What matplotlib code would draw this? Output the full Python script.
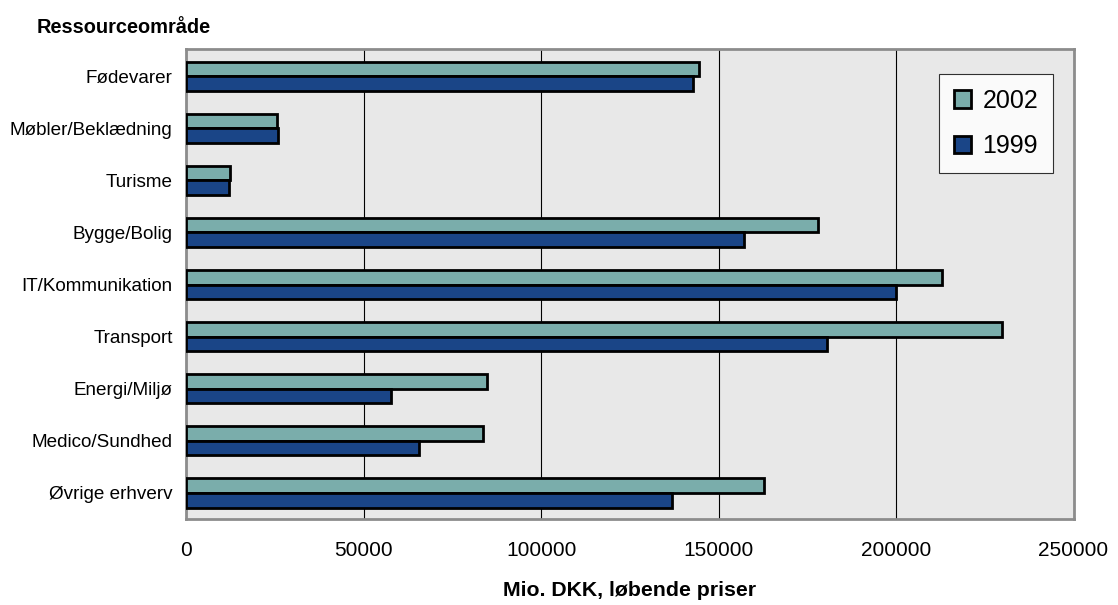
import matplotlib
matplotlib.use("Agg")
import matplotlib.pyplot as plt
import numpy as np

plt.rcParams['font.family'] = ['Liberation Sans', 'DejaVu Sans']

categories = ['Fødevarer', 'Møbler/Beklædning', 'Turisme', 'Bygge/Bolig',
              'IT/Kommunikation', 'Transport', 'Energi/Miljø',
              'Medico/Sundhed', 'Øvrige erhverv']
values_2002 = [144500, 25500, 12200, 178000, 212800, 229900, 84700, 83700, 162700]
values_1999 = [142800, 25700, 11900, 157100, 199900, 180500, 57600, 65600, 136900]
xticks = [0, 50000, 100000, 150000, 200000, 250000]

fig = plt.figure(figsize=(11.18, 6.05), dpi=100)
ax = fig.add_axes([0.1668, 0.1421, 0.7934, 0.7769])
ax.set_facecolor('#E8E8E8')

y = np.arange(len(categories))
h = 0.28
ax.barh(y - h / 2, values_2002, height=h, color='#7AADAB', edgecolor='black',
        linewidth=2, label='2002', zorder=3)
ax.barh(y + h / 2, values_1999, height=h, color='#1A4587', edgecolor='black',
        linewidth=2, label='1999', zorder=3)

ax.set_xlim(0, 250000)
ax.set_ylim(8.5, -0.52)
ax.set_xticks(xticks)
ax.set_xticklabels([str(v) for v in xticks], fontsize=15)
ax.set_yticks(y)
ax.set_yticklabels(categories, fontsize=13.6)
ax.tick_params(axis='x', length=0, pad=16)
ax.tick_params(axis='y', length=0, pad=10)
ax.xaxis.grid(True, color='black', linewidth=0.8, zorder=1)
ax.set_axisbelow(True)

for s in ax.spines.values():
    s.set_color('#8C8C8C')
    s.set_linewidth(2)

ax.set_xlabel('Mio. DKK, løbende priser', fontsize=15.3, fontweight='bold', labelpad=15)
fig.text(0.033, 0.955, 'Ressourceområde', fontsize=14.4, fontweight='bold',
         ha='left', va='center')

leg = ax.legend(loc='upper right', bbox_to_anchor=(0.977, 0.947), borderaxespad=0,
                fontsize=18, frameon=True, fancybox=False, edgecolor='black',
                borderpad=0.6, handlelength=0.7, handleheight=0.7,
                handletextpad=0.45, labelspacing=0.85)
leg.get_frame().set_linewidth(0.8)
leg.get_frame().set_facecolor('white')

fig.savefig('out.png', dpi=100)
